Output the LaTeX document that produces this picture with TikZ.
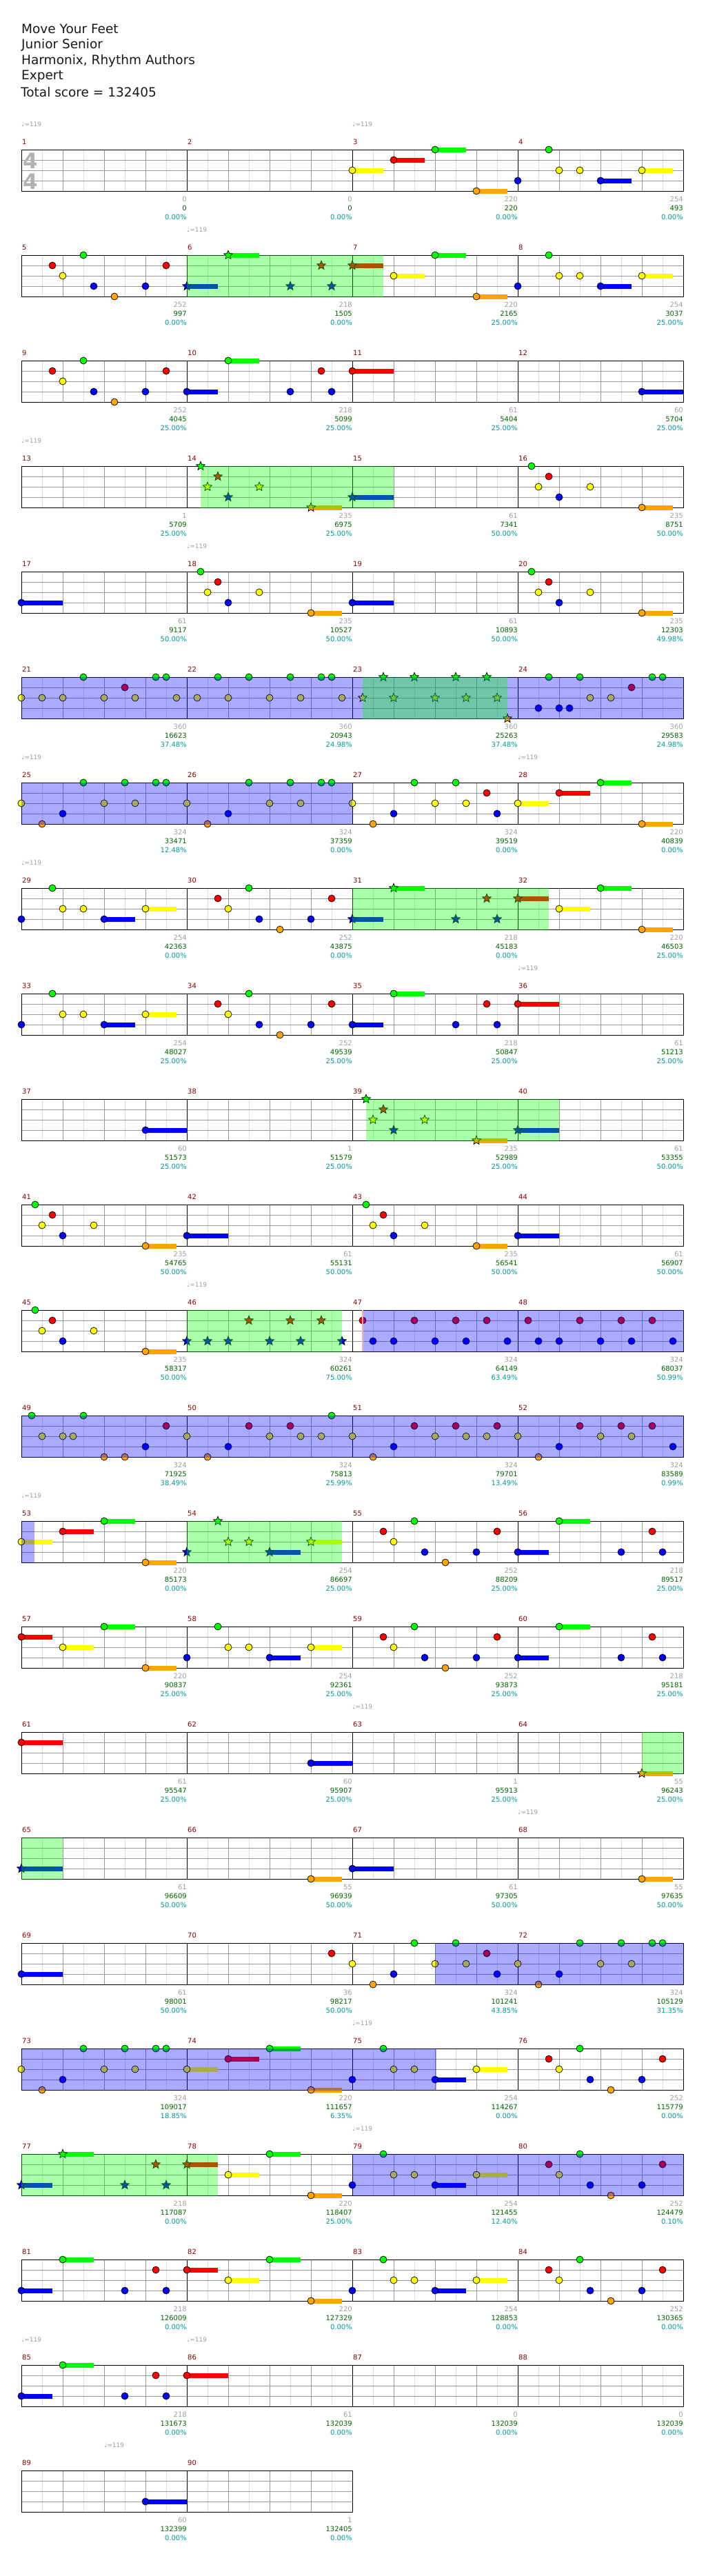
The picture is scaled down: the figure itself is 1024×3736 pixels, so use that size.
\documentclass[tikz,border=0pt]{standalone}
\usepackage{fontspec}
\setmainfont{DejaVu Sans}
\definecolor{ln0}{RGB}{0,255,0}
\definecolor{ln1}{RGB}{255,0,0}
\definecolor{ln2}{RGB}{255,255,0}
\definecolor{ln3}{RGB}{0,0,255}
\definecolor{ln4}{RGB}{255,165,0}
\definecolor{gridlight}{RGB}{220,220,220}
\definecolor{griddark}{RGB}{153,153,153}
\definecolor{numred}{RGB}{139,0,0}
\definecolor{numgray}{RGB}{160,160,160}
\definecolor{numgreen}{RGB}{0,100,0}
\definecolor{numteal}{RGB}{0,153,153}
\definecolor{spgreen}{RGB}{0,255,0}
\definecolor{fillblue}{RGB}{0,0,255}
\definecolor{pinkline}{RGB}{255,170,170}
\tikzset{
  gl/.style={gridlight,line width=1pt},
  gd/.style={griddark,line width=1pt},
  bar/.style={black,line width=1pt},
  notec/.style={black,line width=0.7pt},
  mnum/.style={anchor=west,inner sep=0pt,text=numred,font=\fontsize{10}{12}\selectfont},
  sa/.style={anchor=east,inner sep=0pt,text=numgray,font=\fontsize{10}{12}\selectfont},
  sb/.style={anchor=east,inner sep=0pt,text=numgreen,font=\fontsize{10}{12}\selectfont},
  sc/.style={anchor=east,inner sep=0pt,text=numteal,font=\fontsize{10}{12}\selectfont},
  tempo/.style={anchor=west,inner sep=0pt,text=numgray,font=\fontsize{9}{11}\selectfont},
  head/.style={anchor=west,inner sep=0pt,text={black!90},font=\fontsize{18.5}{22}\selectfont},
  tsig/.style={inner sep=0pt,text={black!30},font=\fontsize{31}{31}\selectfont\bfseries},
}
\newcommand\nt[4]{%
  \pgfmathsetmacro\nx{31+mod(#1-1,4)*240+(#2)*60}%
  \pgfmathsetmacro\ny{217+floor((#1-1)/4)*153+#3*15}%
  \pgfmathsetmacro\nl{(#4)*60}%
  \ifdim\nl pt>0pt \fill[ln#3] (\nx,\ny-3.5) rectangle ++(\nl,7);\fi
  \draw[notec,fill=ln#3] (\nx,\ny) circle[radius=5];}
\newcommand\st[4]{%
  \pgfmathsetmacro\nx{31+mod(#1-1,4)*240+(#2)*60}%
  \pgfmathsetmacro\ny{217+floor((#1-1)/4)*153+#3*15}%
  \pgfmathsetmacro\nl{(#4)*60}%
  \ifdim\nl pt>0pt \fill[ln#3] (\nx,\ny-3.5) rectangle ++(\nl,7);\fi
  \draw[notec,fill=ln#3] (\nx,\ny) +(-90:6.8) -- +(-54:3) -- +(-18:6.8) -- +(18:3) -- +(54:6.8) -- +(90:3) -- +(126:6.8) -- +(162:3) -- +(198:6.8) -- +(234:3) -- cycle;}
\newcommand\ov[5]{%
  \pgfmathsetmacro\xa{31+mod(#2-1,4)*240+(#3)*60}%
  \pgfmathsetmacro\xb{31+mod(#4-1,4)*240+(#5)*60}%
  \pgfmathsetmacro\yt{217+floor((#2-1)/4)*153}%
  \fill[#1,fill opacity=0.333] (\xa,\yt-0.5) rectangle (\xb,\yt+60.5);}
\newcommand\staffrow[2]{%
  \pgfmathsetmacro\ry{217+#1*153}%
  \pgfmathtruncatemacro\nk{#2*8-1}%
  \pgfmathtruncatemacro\nm{#2-1}%
  \foreach \k in {1,3,...,\nk} \draw[gl] (31+\k*30,\ry) -- ++(0,60);
  \foreach \k in {2,4,...,\nk} \draw[gd] (31+\k*30,\ry) -- ++(0,60);
  \foreach \l in {15,30,45} \draw[gd] (31,\ry+\l) -- ++(#2*240,0);
  \foreach \m in {1,...,\nm} \draw[bar] (31+\m*240,\ry) -- ++(0,60);
  \draw[bar] (31,\ry) rectangle ++(#2*240,60);}
\newcommand\ms[4]{%
  \pgfmathsetmacro\xs{31+mod(#1-1,4)*240}%
  \pgfmathsetmacro\yt{217+floor((#1-1)/4)*153}%
  \node[mnum] (n#1) at (\xs+1,\yt-11) {#1};
  \node[sa] (a#1) at (\xs+240,\yt+72) {#2};
  \node[sb] (b#1) at (\xs+240,\yt+85) {#3};
  \node[sc] (c#1) at (\xs+240,\yt+98) {#4};}
\newcommand\tp[2]{%
  \pgfmathsetmacro\xs{31+mod(#1-1,4)*240+(#2)*60}%
  \pgfmathsetmacro\yt{217+floor((#1-1)/4)*153}%
  \node[tempo] (t#1) at (\xs,\yt-37) {♩=119};}
% patterns
\newcommand\pA[1]{\nt{#1}{.333}{0}{0}\nt{#1}{.5}{2}{0}\nt{#1}{.75}{1}{0}\nt{#1}{1}{3}{0}\nt{#1}{1.75}{2}{0}\nt{#1}{3}{4}{.75}}
\newcommand\pAs[1]{\st{#1}{.333}{0}{0}\st{#1}{.5}{2}{0}\st{#1}{.75}{1}{0}\st{#1}{1}{3}{0}\st{#1}{1.75}{2}{0}\st{#1}{3}{4}{.75}}
\newcommand\pB[1]{\nt{#1}{.75}{1}{0}\nt{#1}{1}{2}{0}\nt{#1}{1.5}{0}{0}\nt{#1}{1.75}{3}{0}\nt{#1}{2.25}{4}{0}\nt{#1}{3}{3}{0}\nt{#1}{3.5}{1}{0}}
\newcommand\pC[1]{\nt{#1}{0}{3}{.75}\nt{#1}{1}{0}{.75}\nt{#1}{2.5}{3}{0}\nt{#1}{3.25}{1}{0}\nt{#1}{3.5}{3}{0}}
\newcommand\pCs[1]{\st{#1}{0}{3}{.75}\st{#1}{1}{0}{.75}\st{#1}{2.5}{3}{0}\st{#1}{3.25}{1}{0}\st{#1}{3.5}{3}{0}}
\newcommand\pD[1]{\nt{#1}{0}{2}{.75}\nt{#1}{1}{1}{.75}\nt{#1}{2}{0}{.75}\nt{#1}{3}{4}{.75}}
\newcommand\pDr[1]{\nt{#1}{0}{1}{.75}\nt{#1}{1}{2}{.75}\nt{#1}{2}{0}{.75}\nt{#1}{3}{4}{.75}}
\newcommand\pDs[1]{\st{#1}{0}{1}{.75}\nt{#1}{1}{2}{.75}\nt{#1}{2}{0}{.75}\nt{#1}{3}{4}{.75}}
\newcommand\pE[1]{\nt{#1}{0}{3}{0}\nt{#1}{.75}{0}{0}\nt{#1}{1}{2}{0}\nt{#1}{1.5}{2}{0}\nt{#1}{2}{3}{.75}\nt{#1}{3}{2}{.75}}
\newcommand\pEs[1]{\st{#1}{0}{3}{0}\st{#1}{.75}{0}{0}\st{#1}{1}{2}{0}\st{#1}{1.5}{2}{0}\st{#1}{2}{3}{.75}\st{#1}{3}{2}{.75}}
\newcommand\pF[1]{% 324 pattern
  \foreach \b in {0,2,2.75} {\nt{#1}{\b}{2}{0}}
  \foreach \b in {1.5,2.5,3.25,3.5} {\nt{#1}{\b}{0}{0}}
  \nt{#1}{1}{3}{0}\nt{#1}{.5}{4}{0}}
\newcommand\pG[1]{% m27 pattern
  \foreach \b in {0,2,2.75} {\nt{#1}{\b}{2}{0}}
  \nt{#1}{.5}{4}{0}\nt{#1}{1}{3}{0}\nt{#1}{3.5}{3}{0}
  \nt{#1}{1.5}{0}{0}\nt{#1}{2.5}{0}{0}\nt{#1}{3.25}{1}{0}}
\begin{document}
\begin{tikzpicture}[x=1pt,y=-1pt]
\useasboundingbox[fill=white] (0,0) rectangle (1024,3736);
% header
\node[head] (h1) at (31,41.7) {Move Your  Feet};
\node[head] (h2) at (31,65) {Junior  Senior};
\node[head] (h3) at (31,88.3) {Harmonix,  Rhythm  Authors};
\node[head] (h4) at (31,111) {Expert};
\node[head] (h5) at (30,134) {Total  score = 132405};
% staffs
\foreach \r in {0,...,21} {\staffrow{\r}{4}}
\staffrow{22}{2}
\node[tsig] (tsa) at (44.5,233.3) {4};
\node[tsig] (tsb) at (44.5,263.3) {4};
% ---- notes
\pD{3}\pE{4}
\pB{5}\pCs{6}\pDs{7}\pE{8}
\pB{9}\pC{10}\nt{11}{0}{1}{1}\nt{12}{3}{3}{1}
\pAs{14}\st{15}{0}{3}{1}\pA{16}
\nt{17}{0}{3}{1}\pA{18}\nt{19}{0}{3}{1}\pA{20}
% m21
\foreach \b in {0,.5,1,2,2.75,3.75} {\nt{21}{\b}{2}{0}}
\foreach \b in {1.5,3.25,3.5} {\nt{21}{\b}{0}{0}}
\nt{21}{2.5}{1}{0}
% m22
\foreach \b in {.25,1,2,2.75,3.75} {\nt{22}{\b}{2}{0}}
\foreach \b in {.75,1.5,2.5,3.25,3.5} {\nt{22}{\b}{0}{0}}
% m23
\foreach \b in {.75,1.5,2.5,3.25} {\st{23}{\b}{0}{0}}
\foreach \b in {.25,1,2,2.75,3.5} {\st{23}{\b}{2}{0}}
\st{23}{3.75}{4}{0}
% m24
\foreach \b in {.75,1.5,3.25,3.5} {\nt{24}{\b}{0}{0}}
\nt{24}{2.75}{1}{0}
\foreach \b in {1.75,2.25} {\nt{24}{\b}{2}{0}}
\foreach \b in {.5,1,1.25} {\nt{24}{\b}{3}{0}}
\pF{25}\pF{26}\pG{27}\pD{28}
\pE{29}\pB{30}\pCs{31}\pDs{32}
\pE{33}\pB{34}\pC{35}\nt{36}{0}{1}{1}
\nt{37}{3}{3}{1}\pAs{39}\st{40}{0}{3}{1}
\pA{41}\nt{42}{0}{3}{1}\pA{43}\nt{44}{0}{3}{1}
\pA{45}
\foreach \b in {0,.5,1,2,2.75,3.75} {\st{46}{\b}{3}{0}}
\foreach \b in {1.5,2.5,3.25} {\st{46}{\b}{1}{0}}
\foreach \m in {47,48} {
  \foreach \b in {.25,1.5,2.5,3.25} {\nt{\m}{\b}{1}{0}}
  \foreach \b in {.5,1,2,2.75,3.75} {\nt{\m}{\b}{3}{0}}}
% m49
\nt{49}{.25}{0}{0}\nt{49}{1.5}{0}{0}
\foreach \b in {.5,1,1.25} {\nt{49}{\b}{2}{0}}
\nt{49}{2}{4}{0}\nt{49}{2.5}{4}{0}\nt{49}{3}{3}{0}\nt{49}{3.5}{1}{0}
% m50
\foreach \b in {0,2,2.75,3.25} {\nt{50}{\b}{2}{0}}
\nt{50}{.5}{4}{0}\nt{50}{1}{3}{0}\nt{50}{1.5}{1}{0}\nt{50}{2.5}{1}{0}\nt{50}{3.5}{0}{0}
% m51
\foreach \b in {0,2,2.75,3.25} {\nt{51}{\b}{2}{0}}
\nt{51}{.5}{4}{0}\nt{51}{1}{3}{0}
\foreach \b in {1.5,2.5,3.5} {\nt{51}{\b}{1}{0}}
% m52
\foreach \b in {0,2,2.75} {\nt{52}{\b}{2}{0}}
\nt{52}{.5}{4}{0}\nt{52}{1}{3}{0}\nt{52}{3.75}{3}{0}
\foreach \b in {1.5,2.5,3.25} {\nt{52}{\b}{1}{0}}
\pD{53}\pEs{54}\pB{55}\pC{56}
\pDr{57}\pE{58}\pB{59}\pC{60}
\nt{61}{0}{1}{1}\nt{62}{3}{3}{1}\st{64}{3}{4}{.75}
\st{65}{0}{3}{1}\nt{66}{3}{4}{.75}\nt{67}{0}{3}{1}\nt{68}{3}{4}{.75}
\nt{69}{0}{3}{1}\nt{70}{3.5}{1}{0}\pG{71}\pF{72}
\pF{73}\pD{74}\pE{75}\pB{76}
\pCs{77}\pDs{78}\pE{79}\pB{80}
\pC{81}\pDr{82}\pE{83}\pB{84}
\pC{85}\nt{86}{0}{1}{1}
\nt{89}{3}{3}{1}
% ---- overlays
\ov{spgreen}{6}{0}{6}{4}\ov{spgreen}{7}{0}{7}{.75}
\ov{spgreen}{14}{.333}{14}{4}\ov{spgreen}{15}{0}{15}{1}
\ov{fillblue}{21}{0}{24}{4}\ov{spgreen}{23}{.25}{23}{3.75}
\ov{fillblue}{25}{0}{26}{4}
\ov{spgreen}{31}{0}{31}{4}\ov{spgreen}{32}{0}{32}{.75}
\ov{spgreen}{39}{.333}{39}{4}\ov{spgreen}{40}{0}{40}{1}
\ov{spgreen}{46}{0}{46}{3.75}
\ov{fillblue}{47}{.25}{48}{4}
\ov{fillblue}{49}{0}{52}{4}
\ov{fillblue}{53}{0}{53}{.32}
\ov{spgreen}{54}{0}{54}{3.75}
\ov{spgreen}{64}{3}{64}{4}
\ov{spgreen}{65}{0}{65}{1}
\ov{fillblue}{71}{2}{72}{4}
\ov{fillblue}{73}{0}{75}{2.03}
\ov{spgreen}{77}{0}{77}{4}\ov{spgreen}{78}{0}{78}{.75}
\ov{fillblue}{79}{0}{80}{4}
\fill[pinkline] (525,1900) rectangle (527,1960);
% ---- labels
\ms{1}{0}{0}{0.00\%}\ms{2}{0}{0}{0.00\%}\ms{3}{220}{220}{0.00\%}\ms{4}{254}{493}{0.00\%}
\ms{5}{252}{997}{0.00\%}\ms{6}{218}{1505}{0.00\%}\ms{7}{220}{2165}{25.00\%}\ms{8}{254}{3037}{25.00\%}
\ms{9}{252}{4045}{25.00\%}\ms{10}{218}{5099}{25.00\%}\ms{11}{61}{5404}{25.00\%}\ms{12}{60}{5704}{25.00\%}
\ms{13}{1}{5709}{25.00\%}\ms{14}{235}{6975}{25.00\%}\ms{15}{61}{7341}{50.00\%}\ms{16}{235}{8751}{50.00\%}
\ms{17}{61}{9117}{50.00\%}\ms{18}{235}{10527}{50.00\%}\ms{19}{61}{10893}{50.00\%}\ms{20}{235}{12303}{49.98\%}
\ms{21}{360}{16623}{37.48\%}\ms{22}{360}{20943}{24.98\%}\ms{23}{360}{25263}{37.48\%}\ms{24}{360}{29583}{24.98\%}
\ms{25}{324}{33471}{12.48\%}\ms{26}{324}{37359}{0.00\%}\ms{27}{324}{39519}{0.00\%}\ms{28}{220}{40839}{0.00\%}
\ms{29}{254}{42363}{0.00\%}\ms{30}{252}{43875}{0.00\%}\ms{31}{218}{45183}{0.00\%}\ms{32}{220}{46503}{25.00\%}
\ms{33}{254}{48027}{25.00\%}\ms{34}{252}{49539}{25.00\%}\ms{35}{218}{50847}{25.00\%}\ms{36}{61}{51213}{25.00\%}
\ms{37}{60}{51573}{25.00\%}\ms{38}{1}{51579}{25.00\%}\ms{39}{235}{52989}{25.00\%}\ms{40}{61}{53355}{50.00\%}
\ms{41}{235}{54765}{50.00\%}\ms{42}{61}{55131}{50.00\%}\ms{43}{235}{56541}{50.00\%}\ms{44}{61}{56907}{50.00\%}
\ms{45}{235}{58317}{50.00\%}\ms{46}{324}{60261}{75.00\%}\ms{47}{324}{64149}{63.49\%}\ms{48}{324}{68037}{50.99\%}
\ms{49}{324}{71925}{38.49\%}\ms{50}{324}{75813}{25.99\%}\ms{51}{324}{79701}{13.49\%}\ms{52}{324}{83589}{0.99\%}
\ms{53}{220}{85173}{0.00\%}\ms{54}{254}{86697}{25.00\%}\ms{55}{252}{88209}{25.00\%}\ms{56}{218}{89517}{25.00\%}
\ms{57}{220}{90837}{25.00\%}\ms{58}{254}{92361}{25.00\%}\ms{59}{252}{93873}{25.00\%}\ms{60}{218}{95181}{25.00\%}
\ms{61}{61}{95547}{25.00\%}\ms{62}{60}{95907}{25.00\%}\ms{63}{1}{95913}{25.00\%}\ms{64}{55}{96243}{25.00\%}
\ms{65}{61}{96609}{50.00\%}\ms{66}{55}{96939}{50.00\%}\ms{67}{61}{97305}{50.00\%}\ms{68}{55}{97635}{50.00\%}
\ms{69}{61}{98001}{50.00\%}\ms{70}{36}{98217}{50.00\%}\ms{71}{324}{101241}{43.85\%}\ms{72}{324}{105129}{31.35\%}
\ms{73}{324}{109017}{18.85\%}\ms{74}{220}{111657}{6.35\%}\ms{75}{254}{114267}{0.00\%}\ms{76}{252}{115779}{0.00\%}
\ms{77}{218}{117087}{0.00\%}\ms{78}{220}{118407}{25.00\%}\ms{79}{254}{121455}{12.40\%}\ms{80}{252}{124479}{0.10\%}
\ms{81}{218}{126009}{0.00\%}\ms{82}{220}{127329}{0.00\%}\ms{83}{254}{128853}{0.00\%}\ms{84}{252}{130365}{0.00\%}
\ms{85}{218}{131673}{0.00\%}\ms{86}{61}{132039}{0.00\%}\ms{87}{0}{132039}{0.00\%}\ms{88}{0}{132039}{0.00\%}
\ms{89}{60}{132399}{0.00\%}\ms{90}{1}{132405}{0.00\%}
% tempos
\tp{1}{0}\tp{3}{0}\tp{6}{0}\tp{13}{0}\tp{18}{0}\tp{25}{0}\tp{28}{0}\tp{29}{0}
\tp{36}{0}\tp{46}{0}\tp{53}{0}\tp{63}{0}\tp{68}{0}\tp{75}{0}\tp{79}{0}\tp{85}{0}\tp{86}{0}\tp{89}{2}
\end{tikzpicture}
\end{document}
